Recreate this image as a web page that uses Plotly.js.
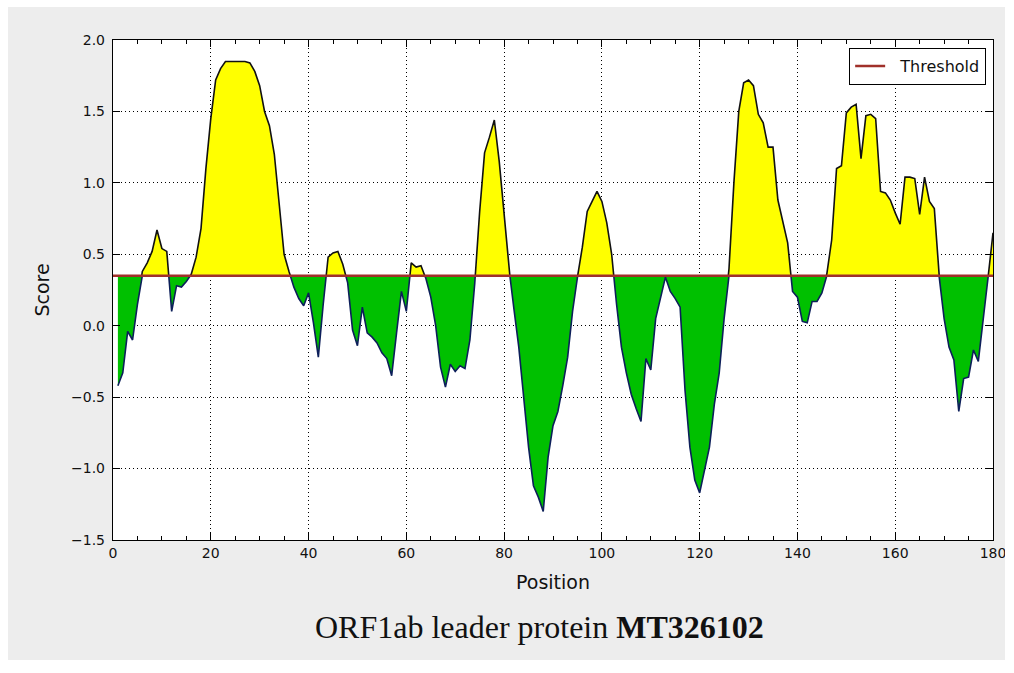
<!DOCTYPE html>
<html>
<head>
<meta charset="utf-8">
<script src="https://cdn.plot.ly/plotly-3.0.1.min.js"></script>
<style>
  html, body { margin: 0; padding: 0; background: #ffffff; }
  #chart { position: absolute; left: 8px; top: 7px; width: 997px; height: 653px; }
</style>
</head>
<body>
<div id="chart"></div>
<script>
// Position (residue) and score values
const positions = [
  1,2,3,4,5,6,7,8,9,10,11,12,13,14,15,16,17,18,19,20,
  21,22,23,24,25,26,27,28,29,30,31,32,33,34,35,36,37,38,39,40,
  41,42,43,44,45,46,47,48,49,50,51,52,53,54,55,56,57,58,59,60,
  61,62,63,64,65,66,67,68,69,70,71,72,73,74,75,76,77,78,79,80,
  81,82,83,84,85,86,87,88,89,90,91,92,93,94,95,96,97,98,99,100,
  101,102,103,104,105,106,107,108,109,110,111,112,113,114,115,116,117,118,119,120,
  121,122,123,124,125,126,127,128,129,130,131,132,133,134,135,136,137,138,139,140,
  141,142,143,144,145,146,147,148,149,150,151,152,153,154,155,156,157,158,159,160,
  161,162,163,164,165,166,167,168,169,170,171,172,173,174,175,176,177,178,179,180
];
const scores = [
  -0.42,-0.33,-0.04,-0.10,0.15,0.38,0.44,0.52,0.67,0.54,0.52,0.10,0.28,0.27,0.31,0.36,0.48,0.68,1.10,1.45,
  1.72,1.80,1.85,1.85,1.85,1.85,1.85,1.84,1.78,1.68,1.50,1.40,1.20,0.85,0.50,0.38,0.27,0.19,0.14,0.23,
  0.02,-0.22,0.15,0.48,0.51,0.52,0.43,0.30,-0.03,-0.14,0.13,-0.05,-0.08,-0.12,-0.19,-0.23,-0.35,-0.05,0.24,0.10,
  0.44,0.41,0.42,0.33,0.20,0.00,-0.29,-0.43,-0.27,-0.32,-0.28,-0.30,-0.10,0.30,0.80,1.21,1.32,1.44,1.15,0.80,
  0.40,0.12,-0.15,-0.50,-0.85,-1.12,-1.20,-1.30,-0.92,-0.70,-0.60,-0.42,-0.22,0.10,0.34,0.55,0.80,0.87,0.94,0.87,
  0.72,0.50,0.15,-0.15,-0.33,-0.48,-0.58,-0.67,-0.23,-0.31,0.05,0.20,0.34,0.24,0.19,0.13,-0.45,-0.85,-1.08,-1.17,
  -1.00,-0.85,-0.55,-0.33,0.05,0.40,1.00,1.50,1.70,1.72,1.68,1.48,1.42,1.25,1.25,0.88,0.74,0.58,0.24,0.20,
  0.03,0.02,0.17,0.17,0.23,0.36,0.60,1.10,1.12,1.49,1.53,1.55,1.17,1.47,1.48,1.45,0.94,0.93,0.88,0.79,
  0.71,1.04,1.04,1.03,0.78,1.04,0.87,0.82,0.34,0.05,-0.15,-0.24,-0.60,-0.37,-0.36,-0.17,-0.25,0.04,0.34,0.65
];
const threshold = 0.35;
const xRange = [0, 180];
const yRange = [-1.5, 2.0];
const yTicks = [-1.5, -1.0, -0.5, 0.0, 0.5, 1.0, 1.5, 2.0];
const xTicks = [0, 20, 40, 60, 80, 100, 120, 140, 160, 180];

// insert threshold crossings so the two fills meet cleanly
const xs = [], ys = [];
for (let i = 0; i < positions.length; i++) {
  xs.push(positions[i]); ys.push(scores[i]);
  if (i < positions.length - 1) {
    const a = scores[i] - threshold, b = scores[i + 1] - threshold;
    if (a * b < 0) {
      const t = a / (a - b);
      xs.push(positions[i] + t * (positions[i + 1] - positions[i]));
      ys.push(threshold);
    }
  }
}
const upper = ys.map(v => Math.max(v, threshold));
const lower = ys.map(v => Math.min(v, threshold));
const base = xs.map(() => threshold);

const traces = [
  { x: xs, y: base, mode: 'lines', line: { width: 0 }, showlegend: false, hoverinfo: 'skip' },
  { x: xs, y: upper, mode: 'lines', fill: 'tonexty', fillcolor: '#ffff00',
    line: { color: '#111111', width: 1.6 }, showlegend: false, hoverinfo: 'skip' },
  { x: xs, y: base, mode: 'lines', line: { width: 0 }, showlegend: false, hoverinfo: 'skip' },
  { x: xs, y: lower, mode: 'lines', fill: 'tonexty', fillcolor: '#00c000',
    line: { color: '#0d1f5a', width: 1.6 }, showlegend: false, hoverinfo: 'skip' },
  { x: xRange, y: [threshold, threshold], mode: 'lines', name: '\u00a0\u00a0Threshold',
    line: { color: '#a0302a', width: 2.5 }, hoverinfo: 'skip' }
];

const tickFont = { family: 'DejaVu Sans', size: 14, color: '#111111' };
const layout = {
  width: 997, height: 653,
  paper_bgcolor: '#ededed', plot_bgcolor: '#ffffff',
  margin: { l: 105, r: 12, t: 33, b: 120 },
  showlegend: true,
  legend: {
    x: 0.992, y: 0.984, xanchor: 'right', yanchor: 'top',
    bgcolor: '#ffffff', bordercolor: '#000000', borderwidth: 1.2,
    font: { family: 'DejaVu Sans', size: 16, color: '#111111' },
    itemwidth: 30
  },
  xaxis: {
    range: xRange, tickvals: xTicks, ticktext: xTicks.map(String),
    ticks: 'inside', ticklen: 7, tickcolor: '#000', tickwidth: 1,
    minor: { dtick: 5, tick0: 0, ticks: 'inside', ticklen: 4, tickcolor: '#000', showgrid: false },
    showline: true, linecolor: '#000', linewidth: 1.2, mirror: 'allticks',
    showgrid: true, gridcolor: '#000000', gridwidth: 1, griddash: '1px,3px',
    zeroline: false, tickfont: tickFont, ticklabeloverflow: 'allow',
    title: { text: 'Position', font: { family: 'DejaVu Sans', size: 19, color: '#111' }, standoff: 15 }
  },
  yaxis: {
    range: yRange, tickvals: yTicks, ticktext: yTicks.map(v => v.toFixed(1).replace('-', '\u2212')),
    ticks: 'inside', ticklen: 7, tickcolor: '#000', tickwidth: 1,
    showline: true, linecolor: '#000', linewidth: 1.2, mirror: 'allticks',
    showgrid: true, gridcolor: '#000000', gridwidth: 1, griddash: '1px,3px',
    zeroline: false, tickfont: tickFont, ticklabelstandoff: 4, ticklabeloverflow: 'allow',
    title: { text: 'Score', font: { family: 'DejaVu Sans', size: 19, color: '#111' }, standoff: 16 }
  },
  annotations: [{
    xref: 'paper', yref: 'paper', x: 0.485, y: -0.174, xanchor: 'center', yanchor: 'middle',
    showarrow: false,
    text: 'ORF1ab leader protein <b>MT326102</b>',
    font: { family: 'Liberation Serif', size: 32, color: '#111111' }
  }]
};

Plotly.newPlot('chart', traces, layout, { displayModeBar: false, staticPlot: true });
</script>
</body>
</html>
